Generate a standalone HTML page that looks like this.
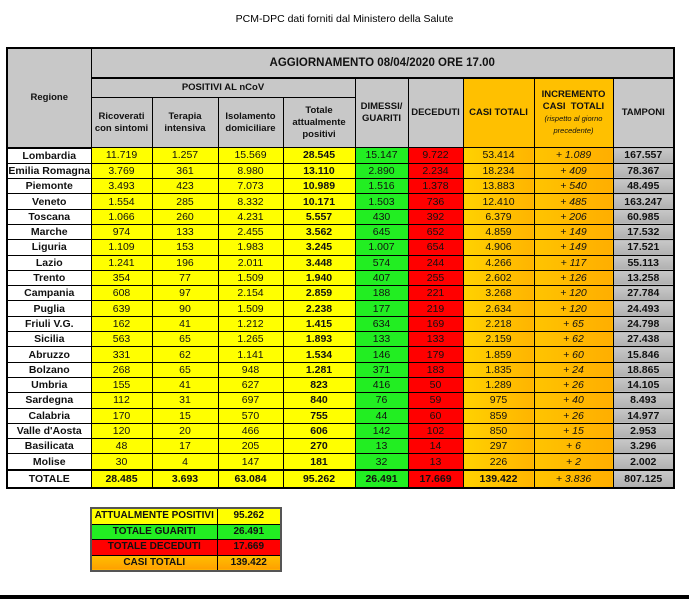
<!DOCTYPE html>
<html><head><meta charset="utf-8"><style>
body{margin:0;width:689px;height:599px;background:#fff;position:relative;overflow:hidden;font-family:"Liberation Sans",sans-serif;}
.t{position:absolute;top:13px;left:0;width:689px;text-align:center;font-size:10.5px;color:#000;}
table{border-collapse:collapse;table-layout:fixed;position:absolute;}
td{border:1px solid #000;padding:0;text-align:center;font-size:10.5px;color:#111;overflow:hidden;white-space:nowrap;}
#m{left:6px;top:47px;border:2px solid #000;}
.h{background:#c8c8c8;font-weight:bold;font-size:9.5px;white-space:normal;line-height:12px}
.r{background:#fff;font-weight:bold}
.y{background:#ffff00}
.g{background:#22ee22}
.d{background:#ff0000}
.o{background:linear-gradient(90deg,#ffd200,#ffb400)}
.i{background:linear-gradient(90deg,#ffc400,#ffae00);font-style:italic}
.p{background:linear-gradient(180deg,#c8c8c8,#b0b0b0);font-weight:bold}
.b{font-weight:bold}
tr.dr td{height:14.3px;line-height:14px}
#s{left:90px;top:507px;border:2px solid #555;}
#s td{height:14.5px;font-weight:bold;line-height:14px;font-size:10px}
.bar{position:absolute;left:0;top:595px;width:689px;height:4px;background:#000}
</style></head><body>
<div class="t">PCM-DPC dati forniti dal Ministero della Salute</div>
<table id="m">
<colgroup><col style="width:84px"><col style="width:61px"><col style="width:66px"><col style="width:65px"><col style="width:72px"><col style="width:53px"><col style="width:55px"><col style="width:71px"><col style="width:79px"><col style="width:61px"></colgroup>
<tr><td class="h" rowspan="3" style="border-bottom:2px solid #000">Regione</td><td class="h" colspan="9" style="height:28px;font-size:11.5px;border-bottom:2px solid #000">AGGIORNAMENTO 08/04/2020 ORE 17.00</td></tr>
<tr><td class="h" colspan="4" style="height:18px">POSITIVI AL nCoV</td><td class="h" rowspan="2">DIMESSI/<br>GUARITI</td><td class="h" rowspan="2">DECEDUTI</td><td class="h" rowspan="2" style="background:#ffc000">CASI TOTALI</td><td class="h" rowspan="2" style="background:#ffc000">INCREMENTO<br>CASI &nbsp;TOTALI<br><span style="font-weight:normal;font-style:italic;font-size:7.5px">(rispetto al giorno<br>precedente)</span></td><td class="h" rowspan="2">TAMPONI</td></tr>
<tr><td class="h" style="height:49px">Ricoverati<br>con sintomi</td><td class="h">Terapia<br>intensiva</td><td class="h">Isolamento<br>domiciliare</td><td class="h">Totale<br>attualmente<br>positivi</td></tr>
<tr class="dr"><td class="r">Lombardia</td><td class="y">11.719</td><td class="y">1.257</td><td class="y">15.569</td><td class="y b">28.545</td><td class="g">15.147</td><td class="d">9.722</td><td class="o">53.414</td><td class="i">+ 1.089</td><td class="p">167.557</td></tr>
<tr class="dr"><td class="r">Emilia Romagna</td><td class="y">3.769</td><td class="y">361</td><td class="y">8.980</td><td class="y b">13.110</td><td class="g">2.890</td><td class="d">2.234</td><td class="o">18.234</td><td class="i">+ 409</td><td class="p">78.367</td></tr>
<tr class="dr"><td class="r">Piemonte</td><td class="y">3.493</td><td class="y">423</td><td class="y">7.073</td><td class="y b">10.989</td><td class="g">1.516</td><td class="d">1.378</td><td class="o">13.883</td><td class="i">+ 540</td><td class="p">48.495</td></tr>
<tr class="dr"><td class="r">Veneto</td><td class="y">1.554</td><td class="y">285</td><td class="y">8.332</td><td class="y b">10.171</td><td class="g">1.503</td><td class="d">736</td><td class="o">12.410</td><td class="i">+ 485</td><td class="p">163.247</td></tr>
<tr class="dr"><td class="r">Toscana</td><td class="y">1.066</td><td class="y">260</td><td class="y">4.231</td><td class="y b">5.557</td><td class="g">430</td><td class="d">392</td><td class="o">6.379</td><td class="i">+ 206</td><td class="p">60.985</td></tr>
<tr class="dr"><td class="r">Marche</td><td class="y">974</td><td class="y">133</td><td class="y">2.455</td><td class="y b">3.562</td><td class="g">645</td><td class="d">652</td><td class="o">4.859</td><td class="i">+ 149</td><td class="p">17.532</td></tr>
<tr class="dr"><td class="r">Liguria</td><td class="y">1.109</td><td class="y">153</td><td class="y">1.983</td><td class="y b">3.245</td><td class="g">1.007</td><td class="d">654</td><td class="o">4.906</td><td class="i">+ 149</td><td class="p">17.521</td></tr>
<tr class="dr"><td class="r">Lazio</td><td class="y">1.241</td><td class="y">196</td><td class="y">2.011</td><td class="y b">3.448</td><td class="g">574</td><td class="d">244</td><td class="o">4.266</td><td class="i">+ 117</td><td class="p">55.113</td></tr>
<tr class="dr"><td class="r">Trento</td><td class="y">354</td><td class="y">77</td><td class="y">1.509</td><td class="y b">1.940</td><td class="g">407</td><td class="d">255</td><td class="o">2.602</td><td class="i">+ 126</td><td class="p">13.258</td></tr>
<tr class="dr"><td class="r">Campania</td><td class="y">608</td><td class="y">97</td><td class="y">2.154</td><td class="y b">2.859</td><td class="g">188</td><td class="d">221</td><td class="o">3.268</td><td class="i">+ 120</td><td class="p">27.784</td></tr>
<tr class="dr"><td class="r">Puglia</td><td class="y">639</td><td class="y">90</td><td class="y">1.509</td><td class="y b">2.238</td><td class="g">177</td><td class="d">219</td><td class="o">2.634</td><td class="i">+ 120</td><td class="p">24.493</td></tr>
<tr class="dr"><td class="r">Friuli V.G.</td><td class="y">162</td><td class="y">41</td><td class="y">1.212</td><td class="y b">1.415</td><td class="g">634</td><td class="d">169</td><td class="o">2.218</td><td class="i">+ 65</td><td class="p">24.798</td></tr>
<tr class="dr"><td class="r">Sicilia</td><td class="y">563</td><td class="y">65</td><td class="y">1.265</td><td class="y b">1.893</td><td class="g">133</td><td class="d">133</td><td class="o">2.159</td><td class="i">+ 62</td><td class="p">27.438</td></tr>
<tr class="dr"><td class="r">Abruzzo</td><td class="y">331</td><td class="y">62</td><td class="y">1.141</td><td class="y b">1.534</td><td class="g">146</td><td class="d">179</td><td class="o">1.859</td><td class="i">+ 60</td><td class="p">15.846</td></tr>
<tr class="dr"><td class="r">Bolzano</td><td class="y">268</td><td class="y">65</td><td class="y">948</td><td class="y b">1.281</td><td class="g">371</td><td class="d">183</td><td class="o">1.835</td><td class="i">+ 24</td><td class="p">18.865</td></tr>
<tr class="dr"><td class="r">Umbria</td><td class="y">155</td><td class="y">41</td><td class="y">627</td><td class="y b">823</td><td class="g">416</td><td class="d">50</td><td class="o">1.289</td><td class="i">+ 26</td><td class="p">14.105</td></tr>
<tr class="dr"><td class="r">Sardegna</td><td class="y">112</td><td class="y">31</td><td class="y">697</td><td class="y b">840</td><td class="g">76</td><td class="d">59</td><td class="o">975</td><td class="i">+ 40</td><td class="p">8.493</td></tr>
<tr class="dr"><td class="r">Calabria</td><td class="y">170</td><td class="y">15</td><td class="y">570</td><td class="y b">755</td><td class="g">44</td><td class="d">60</td><td class="o">859</td><td class="i">+ 26</td><td class="p">14.977</td></tr>
<tr class="dr"><td class="r">Valle d'Aosta</td><td class="y">120</td><td class="y">20</td><td class="y">466</td><td class="y b">606</td><td class="g">142</td><td class="d">102</td><td class="o">850</td><td class="i">+ 15</td><td class="p">2.953</td></tr>
<tr class="dr"><td class="r">Basilicata</td><td class="y">48</td><td class="y">17</td><td class="y">205</td><td class="y b">270</td><td class="g">13</td><td class="d">14</td><td class="o">297</td><td class="i">+ 6</td><td class="p">3.296</td></tr>
<tr class="dr"><td class="r">Molise</td><td class="y">30</td><td class="y">4</td><td class="y">147</td><td class="y b">181</td><td class="g">32</td><td class="d">13</td><td class="o">226</td><td class="i">+ 2</td><td class="p">2.002</td></tr>
<tr class="dr" style="border-top:2px solid #000"><td class="r" style="height:16px">TOTALE</td><td class="y b">28.485</td><td class="y b">3.693</td><td class="y b">63.084</td><td class="y b">95.262</td><td class="g b">26.491</td><td class="d b">17.669</td><td class="o b">139.422</td><td class="i">+ 3.836</td><td class="p">807.125</td></tr>
</table>
<table id="s">
<colgroup><col style="width:126px"><col style="width:64px"></colgroup>
<tr><td class="y">ATTUALMENTE POSITIVI</td><td class="y">95.262</td></tr>
<tr><td class="g">TOTALE GUARITI</td><td class="g">26.491</td></tr>
<tr><td class="d">TOTALE DECEDUTI</td><td class="d">17.669</td></tr>
<tr><td class="o" style="background:linear-gradient(180deg,#ffc000,#ffa000)">CASI TOTALI</td><td style="background:linear-gradient(180deg,#ffc000,#ffa000)">139.422</td></tr>
</table>
<div class="bar"></div>
</body></html>
